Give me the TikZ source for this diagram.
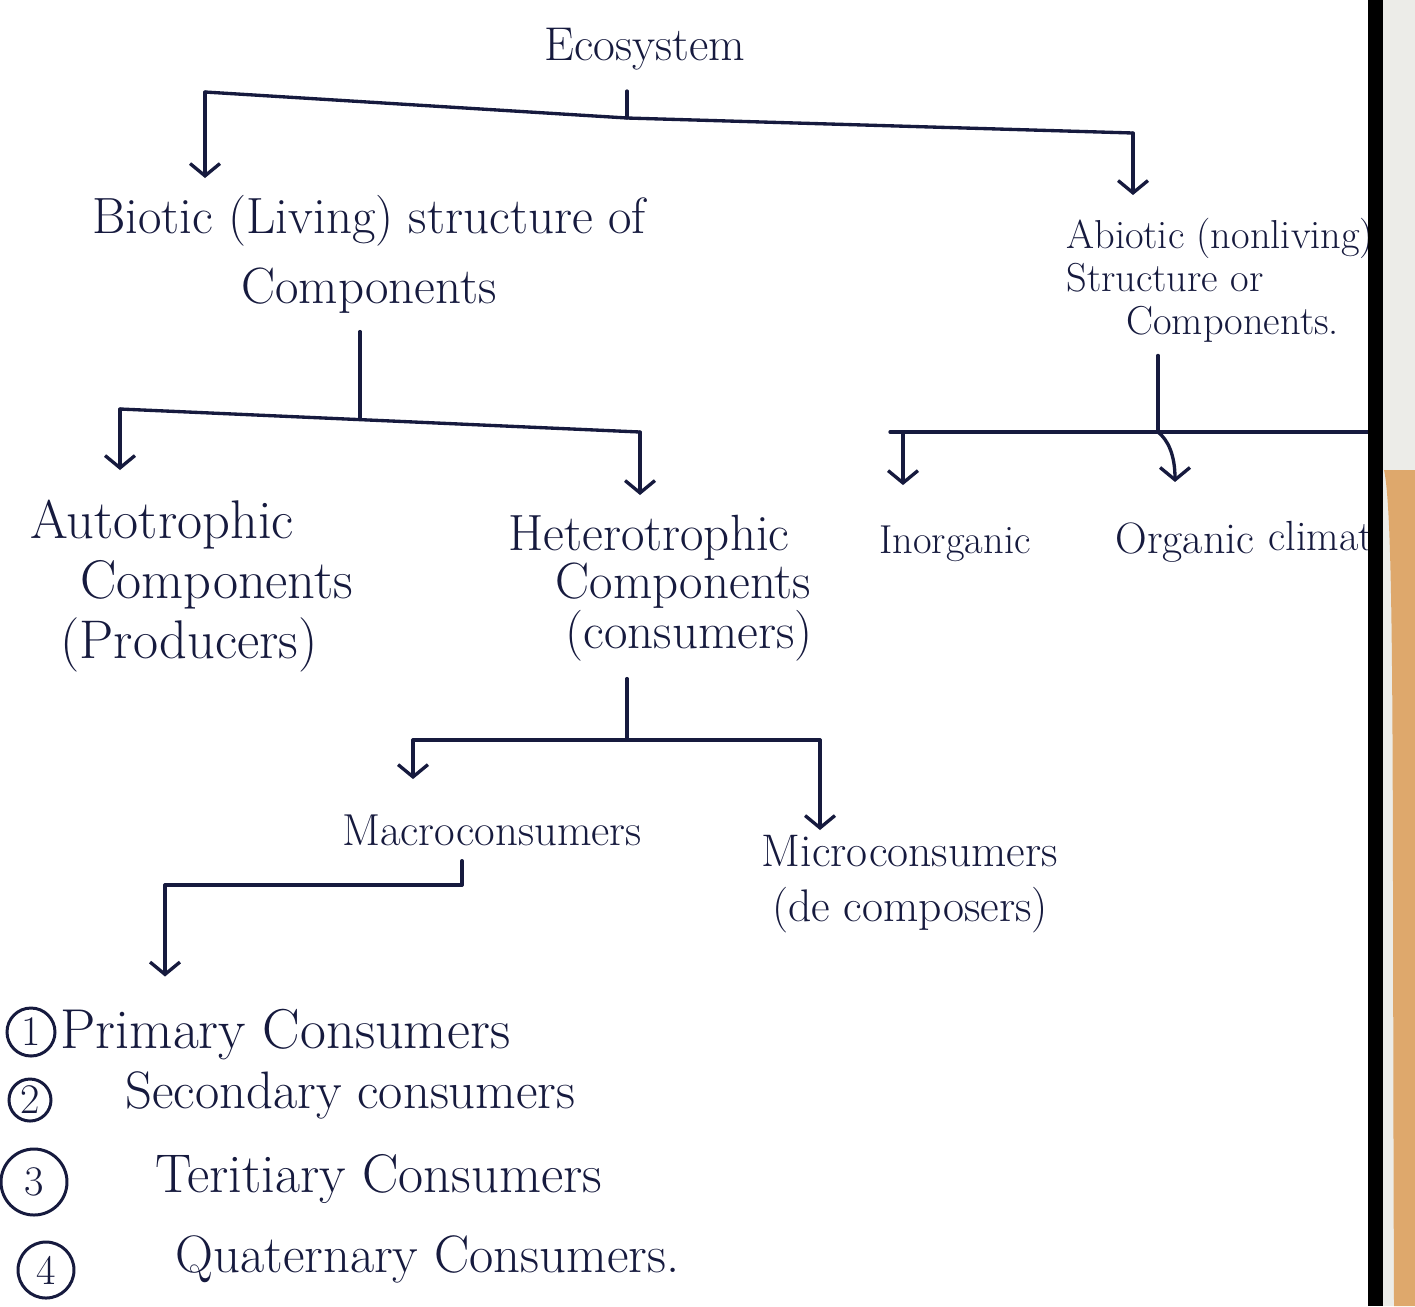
\documentclass[tikz,border=0pt]{standalone}
\usetikzlibrary{arrows.meta,calc}
\definecolor{ink}{RGB}{22,26,62}
\definecolor{tan}{RGB}{222,168,108}
\definecolor{paper}{RGB}{236,236,232}
\begin{document}
\begin{tikzpicture}[x=0.02cm,y=-0.02cm,
  txt/.style={text=ink, inner sep=0pt, align=center},
  link/.style={draw=ink, line width=1.9pt, line cap=round, line join=round},
  arr/.style={link, -{Straight Barb[length=7pt,width=17pt,line width=1.9pt]}},
  num/.style={draw=ink, line width=1.7pt, circle, inner sep=0pt, text=ink, font=\fontsize{24}{24}\selectfont}]
\useasboundingbox (0,0) rectangle (1415,1306);
\fill[white] (0,0) rectangle (1415,1306);

% ---------- text nodes ----------
\node[txt, anchor=base, font=\fontsize{27}{30}\selectfont] (eco) at (645,60) {Ecosystem};
\node[txt, anchor=north, font=\fontsize{29}{40}\selectfont] (bio) at (369,195) {Biotic (Living) structure of\\Components};
\node[txt, anchor=north west, align=left, font=\fontsize{23}{24.5}\selectfont] (abio) at (1066,218) {Abiotic (nonliving)\\Structure or\\\hspace*{1.2cm}Components.};
\node[txt, anchor=north west, align=left, font=\fontsize{31}{34}\selectfont] (auto) at (30,500) {Autotrophic\\\hspace*{1cm}Components\\\hspace*{0.6cm}(Producers)};
\node[txt, anchor=north west, align=left, font=\fontsize{29}{27}\selectfont] (hetero) at (508,515) {Heterotrophic\\\hspace*{0.95cm}Components\\\hspace*{1.15cm}(consumers)};
\node[txt, anchor=base, font=\fontsize{23}{23}\selectfont] (inorg) at (955,553) {Inorganic};
\node[txt, anchor=base, font=\fontsize{25}{25}\selectfont] (org) at (1185,553) {Organic};
\node[txt, anchor=base west, font=\fontsize{24}{24}\selectfont] (clim) at (1268,550) {climatic};
\node[txt, anchor=base, font=\fontsize{25.5}{25}\selectfont] (macro) at (492,845) {Macroconsumers};
\node[txt, anchor=north, font=\fontsize{26}{31}\selectfont] (micro) at (910,835) {Microconsumers\\(de composers)};

\node[num, minimum size=48*0.02cm] (c1) at (31,1032) {1};
\node[num, minimum size=42*0.02cm] (c2) at (30,1100) {2};
\node[num, minimum size=66*0.02cm] (c3) at (34,1182) {3};
\node[num, minimum size=56*0.02cm] (c4) at (46,1270) {4};
\node[txt, anchor=base west, font=\fontsize{32}{32}\selectfont] (l1) at (60,1048) {Primary Consumers};
\node[txt, anchor=base west, font=\fontsize{30}{30}\selectfont] (l2) at (125,1108) {Secondary consumers};
\node[txt, anchor=base west, font=\fontsize{31}{31}\selectfont] (l3) at (155,1192) {Teritiary Consumers};
\node[txt, anchor=base west, font=\fontsize{30}{30}\selectfont] (l4) at (175,1272) {Quaternary Consumers.};

% ---------- junctions ----------
\coordinate (j0) at (627,118);
\coordinate (tl) at (205,92);
\coordinate (tr) at (1133,133);
\coordinate (j1) at (360,419);
\coordinate (bl) at (120,409);
\coordinate (br) at (640,432);
\coordinate (j2) at (1158,432);
\coordinate (cl) at (890,432);
\coordinate (cla) at (903,432);
\coordinate (cr) at (1386,432);
\coordinate (j3) at (627,738);
\coordinate (dl) at (413,740);
\coordinate (dr) at (820,740);
\coordinate (j4) at (462,885);
\coordinate (el) at (165,885);

% ---------- connectors ----------
\draw[link, shorten <=12pt] (eco.south -| j0) -- (j0);
\draw[link] (tl) -- (j0) -- (tr);
\draw[arr, shorten >=0.34cm] (tl) -- (tl |- bio.north);
\draw[arr, shorten >=0.46cm] (tr) -- (tr |- abio.north);

\draw[link, shorten <=0.35cm] (bio.south -| j1) -- (j1);
\draw[link] (bl) -- (br);
\draw[arr, shorten >=0.6cm] (bl) -- (bl |- auto.north);
\draw[arr, shorten >=0.4cm] (br) -- (br |- hetero.north);

\draw[link, shorten <=0.25cm] (abio.south -| j2) -- (j2);
\draw[link] (cl) -- (cr);
\draw[arr, shorten >=0.8cm] (cla) -- (cla |- inorg.north);
\draw[arr, shorten >=0.8cm] (j2) .. controls (1168,440) and (1175,455) .. (org.north -| 1175,0);
\draw[arr, shorten >=1.2cm] (cr) -- (cr |- clim.north);

\draw[link, shorten <=0.35cm] (hetero.south -| j3) -- (j3);
\draw[link] (dl) -- (dr);
\draw[arr, shorten >=0.7cm] (dl) -- (dl |- macro.north);
\draw[arr, shorten >=0.1cm] (dr) -- (dr |- micro.north);

\draw[link, shorten <=0.3cm] (macro.south -| j4) -- (j4);
\draw[link] (j4) -- (el);
\draw[arr, shorten >=0.6cm] (el) -- (el |- c1.north);

% ---------- right edge of the photo ----------
\fill[paper] (1382,0) rectangle (1415,1306);
\fill[tan] (1384,470) .. controls (1395,520) and (1392,800) .. (1394,1306) -- (1415,1306) -- (1415,470) -- cycle;
\fill[black] (1368,0) rectangle (1383,1306);
\end{tikzpicture}
\end{document}
